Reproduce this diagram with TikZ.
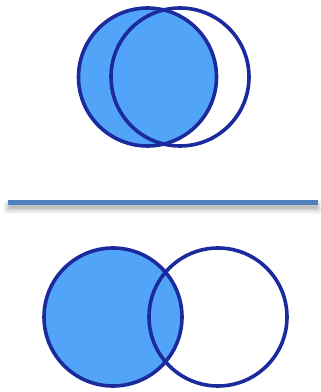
\documentclass[tikz,border=0pt]{standalone}
\usetikzlibrary{shadows.blur}
\definecolor{fillblue}{HTML}{52A4F8}
\definecolor{navy}{HTML}{1B2A9C}
\definecolor{barblue}{HTML}{4F81BD}
\begin{document}
\begin{tikzpicture}[x=1pt,y=1pt,
  ring/.style={circle,draw=navy,line width=3.6pt,minimum size=138pt,inner sep=0pt},
  filled/.style={ring,fill=fillblue},
  hollow/.style={ring,fill=none},
  bar/.style={rectangle,fill=barblue,minimum width=310pt,minimum height=5pt,inner sep=0pt,
    blur shadow={shadow xshift=0pt,shadow yshift=-4pt,shadow blur radius=5pt,shadow opacity=35}}]
\useasboundingbox (0,0) rectangle (321,392);
% top pair
\node[filled] (ta) at (147.5,315) {};
\node[hollow] (tb) at (180,315) {};
% divider
\node[bar] (div) at (163,189) {};
% bottom pair
\node[filled] (ba) at (113,75) {};
\node[hollow] (bb) at (218,75) {};
\end{tikzpicture}
\end{document}
